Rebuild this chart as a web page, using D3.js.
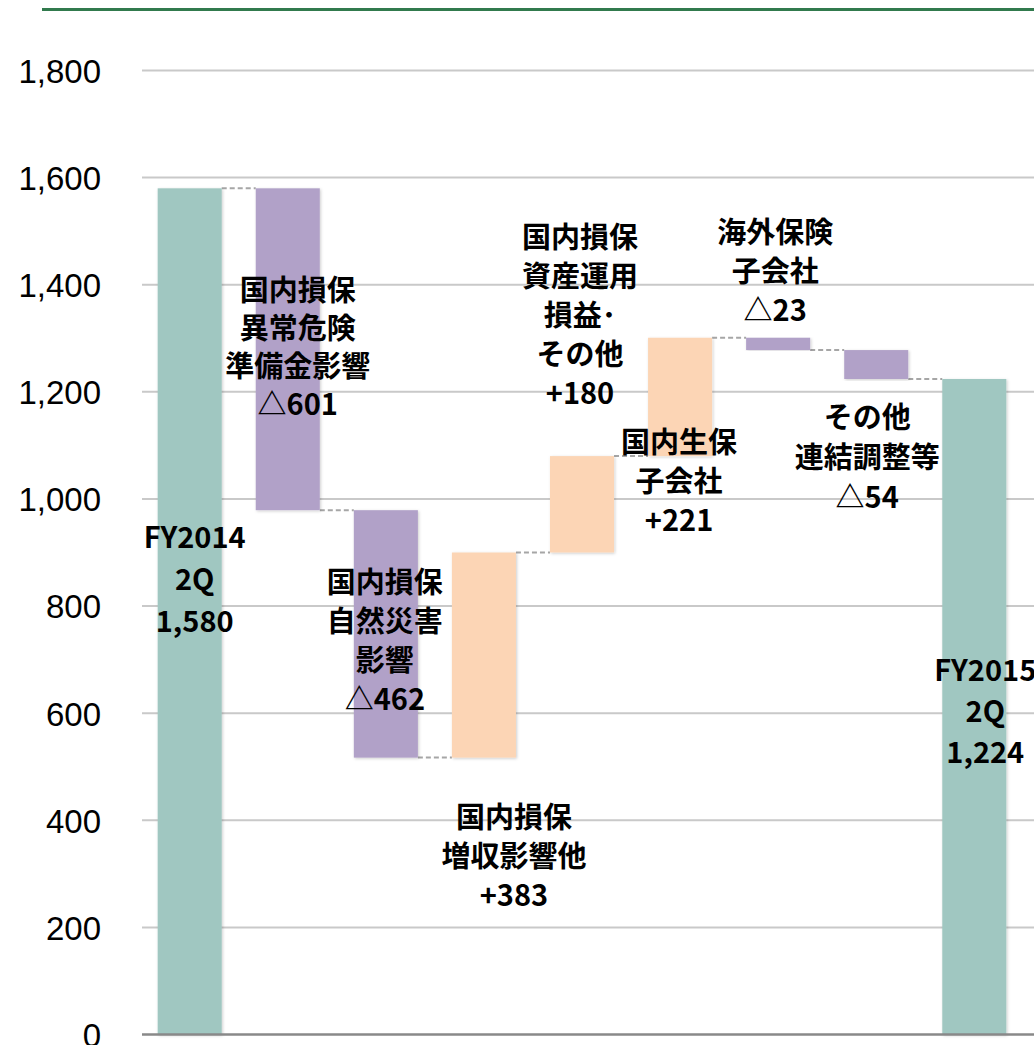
<!DOCTYPE html>
<html>
<head>
<meta charset="utf-8">
<script src="https://cdn.jsdelivr.net/npm/d3@7"></script>
<style>
  body { margin: 0; background: #fff; }
</style>
</head>
<body>
<div id="chart"></div>
<script>
// Waterfall steps: start total, changes, end total
const categories = ["start", "cat", "nat", "rev", "inv", "life", "intl", "other", "end"];
const changes = [1580, -601, -462, 383, 180, 221, -23, -54, 1224];
const kinds = ["total", "down", "down", "up", "up", "up", "down", "down", "total"];
const yTicks = [0, 200, 400, 600, 800, 1000, 1200, 1400, 1600, 1800];

const labelLines = [
    ["FY2014", "2Q", "1,580"],
    ["国内損保", "異常危険", "準備金影響", "△601"],
    ["国内損保", "自然災害", "影響", "△462"],
    ["国内損保", "増収影響他", "+383"],
    ["国内損保", "資産運用", "損益･", "その他", "+180"],
    ["国内生保", "子会社", "+221"],
    ["海外保険", "子会社", "△23"],
    ["その他", "連結調整等", "△54"],
    ["FY2015", "2Q", "1,224"]
];

// label anchor: value level of first line, horizontal shift in px, line spacing
const labelLayout = [
    { v: 933, dx: 5, lh: 42 },
    { v: 1394, dx: 10, lh: 38 },
    { v: 849, dx: -1, lh: 39 },
    { v: 410, dx: 30, lh: 39 },
    { v: 1493, dx: -2, lh: 39 },
    { v: 1110, dx: -1, lh: 39 },
    { v: 1502, dx: -3, lh: 39 },
    { v: 1157, dx: -9, lh: 40 },
    { v: 684, dx: 11, lh: 41 }
];

const colors = { total: "#a0c7c1", down: "#b1a1c8", up: "#fcd5b5" };

const width = 1034, height = 1045;

const svg = d3.select("#chart").append("svg")
    .attr("width", width)
    .attr("height", height);

// subtle bar shadow
const defs = svg.append("defs");
const shadow = defs.append("filter").attr("id", "shadow")
    .attr("x", "-20%").attr("y", "-5%").attr("width", "140%").attr("height", "110%");
shadow.append("feDropShadow")
    .attr("dx", 1).attr("dy", 1).attr("stdDeviation", 1.5)
    .attr("flood-color", "#000").attr("flood-opacity", 0.2);

// top green rule
svg.append("line")
    .attr("x1", 42).attr("x2", width)
    .attr("y1", 9.5).attr("y2", 9.5)
    .attr("stroke", "#317a4d")
    .attr("stroke-width", 3);

const x = d3.scaleBand()
    .domain(categories)
    .range([141, 141 + 98 * categories.length])
    .paddingInner(0.347)
    .paddingOuter(0.17);

const y = d3.scaleLinear()
    .domain([0, 1800])
    .range([1034.5, 70.5]);

// running totals
let running = 0;
const steps = changes.map((c, i) => {
    let lo, hi;
    if (kinds[i] === "total") {
        lo = 0; hi = c; running = c;
    } else {
        const next = running + c;
        lo = Math.min(running, next);
        hi = Math.max(running, next);
        running = next;
    }
    return { key: categories[i], kind: kinds[i], lo, hi, end: running };
});

// gridlines
svg.append("g")
    .selectAll("line")
    .data(yTicks.filter(t => t > 0))
    .join("line")
    .attr("x1", 142).attr("x2", width)
    .attr("y1", d => y(d)).attr("y2", d => y(d))
    .attr("stroke", "#c9c9c9")
    .attr("stroke-width", 2);

// y axis labels
const yAxis = d3.axisLeft(y)
    .tickValues(yTicks)
    .tickFormat(d3.format(","))
    .tickSize(0)
    .tickPadding(0);
const gy = svg.append("g")
    .attr("transform", "translate(101,0)")
    .call(yAxis);
gy.select(".domain").remove();
gy.selectAll("text")
    .attr("font-family", "'Liberation Sans', Arial, sans-serif")
    .attr("font-size", 33)
    .attr("fill", "#000")
    .attr("dy", "0.36em");

// connectors
svg.append("g")
    .selectAll("line")
    .data(steps.slice(0, -1))
    .join("line")
    .attr("x1", d => x(d.key) + x.bandwidth())
    .attr("x2", (d, i) => x(categories[i + 1]))
    .attr("y1", d => y(d.end))
    .attr("y2", d => y(d.end))
    .attr("stroke", "#a6a6a6")
    .attr("stroke-width", 2)
    .attr("stroke-dasharray", "5,3");

// bars
svg.append("g")
    .selectAll("rect")
    .data(steps)
    .join("rect")
    .attr("x", d => x(d.key))
    .attr("width", x.bandwidth())
    .attr("y", d => y(d.hi))
    .attr("height", d => y(d.lo) - y(d.hi))
    .attr("fill", d => colors[d.kind])
    .attr("filter", "url(#shadow)");

// x baseline
svg.append("line")
    .attr("x1", 142).attr("x2", width)
    .attr("y1", y(0)).attr("y2", y(0))
    .attr("stroke", "#898989")
    .attr("stroke-width", 2.5);

// labels
const lg = svg.append("g")
    .attr("font-family", "'Noto Sans CJK JP', sans-serif")
    .attr("font-weight", "bold")
    .attr("font-size", 29)
    .attr("fill", "#000")
    .attr("text-anchor", "middle");

labelLines.forEach((lines, i) => {
    const lay = labelLayout[i];
    const cx = x(categories[i]) + x.bandwidth() / 2 + lay.dx;
    const t = lg.append("text")
        .attr("x", cx)
        .attr("y", y(lay.v))
        .attr("dominant-baseline", "central");
    lines.forEach((s, j) => {
        t.append("tspan")
            .attr("x", cx)
            .attr("y", y(lay.v) + j * lay.lh)
            .text(s);
    });
});
</script>
</body>
</html>
